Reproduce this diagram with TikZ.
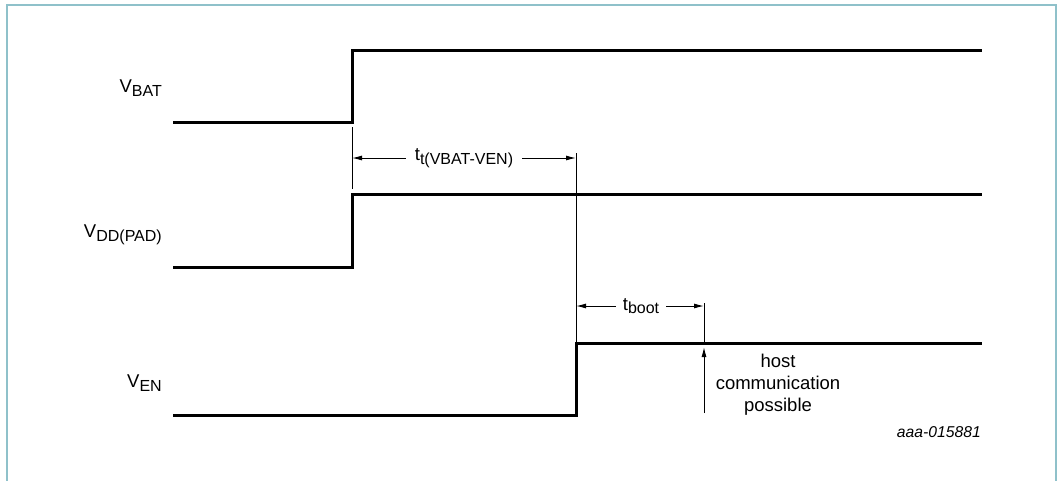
\documentclass[tikz,border=0pt]{standalone}
\usepackage{fontspec}
\setmainfont{Liberation Sans}
\usetikzlibrary{arrows.meta}
\newcommand{\sig}[2]{#1\raisebox{-3.5pt}{\fontsize{16}{17}\selectfont #2}}
\begin{document}
\begin{tikzpicture}[x=1pt,y=-1pt,
  signal/.style={line width=3pt,line join=miter},
  thin/.style={line width=1pt},
  dim/.style={line width=1pt,-{Latex[length=10pt,width=5pt]}},
  lbl/.style={font=\fontsize{18.5}{22}\selectfont,inner sep=0pt},
  frame/.style={draw={rgb,255:red,143;green,193;blue,202},line width=1.5pt}]
\useasboundingbox (0,0) rectangle (1061,480);
\draw[frame] (7,5) -- (1056,5) -- (1056,490) -- (7,490) -- cycle;
% signal labels
\node[lbl,anchor=east] (vbat) at (162,88) {\sig{V}{BAT}};
\node[lbl,anchor=east] (vdd) at (162,235) {\sig{V}{DD(PAD)}};
\node[lbl,anchor=east] (ven) at (162,383) {\sig{V}{EN}};
% waveforms
\draw[signal] (173,122) -- (352,122) -- (352,50) -- (982,50);
\draw[signal] (173,267) -- (352,267) -- (352,194) -- (982,194);
\draw[signal] (173,415) -- (576,415) -- (576,343) -- (982,343);
% ticks
\coordinate (t1a) at (352,127);
\coordinate (t1b) at (352,189);
\coordinate (t2a) at (576,153);
\coordinate (t2b) at (576,343);
\coordinate (t3a) at (704,303);
\coordinate (t3b) at (704,343);
\draw[thin] (t1a) -- (t1b);
\draw[thin] (t2a) -- (t2b);
\draw[thin] (t3a) -- (t3b);
% dimension tt
\node[lbl] (tt) at (464,158) {\sig{t}{t(VBAT-VEN)}};
\coordinate (ttl) at (352,158);
\coordinate (ttr) at (576,158);
\draw[dim] ([xshift=-9pt]tt.west |- ttl) -- (ttl);
\draw[dim] ([xshift=9pt]tt.east |- ttr) -- (ttr);
% dimension tboot
\node[lbl] (tb) at (641,306) {\sig{t}{boot}};
\coordinate (tbl) at (576,306);
\coordinate (tbr) at (704,306);
\draw[dim] ([xshift=-7pt]tb.west |- tbl) -- (tbl);
\draw[dim] ([xshift=7pt]tb.east |- tbr) -- (tbr);
% host arrow
\coordinate (ha) at (704,413);
\coordinate (hb) at (704,347);
\draw[dim] (ha) -- (hb);
\node[lbl,align=center] (host) at (778,385) {host\\communication\\possible};
\node[font=\fontsize{15.7}{18}\selectfont\itshape,inner sep=0pt,anchor=east] (code) at (981,432) {aaa-015881};
\end{tikzpicture}
\end{document}
